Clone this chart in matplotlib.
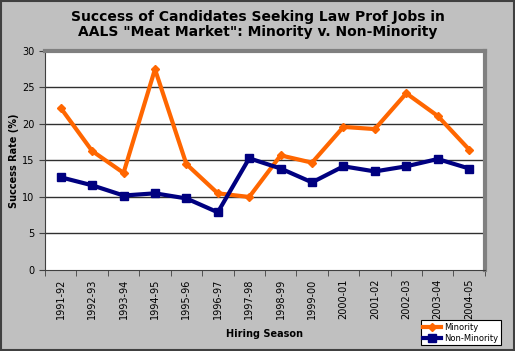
import numpy as np
import matplotlib.pyplot as plt
from matplotlib.patches import Rectangle

seasons = ["1991-92", "1992-93", "1993-94", "1994-95", "1995-96", "1996-97", "1997-98",
           "1998-99", "1999-00", "2000-01", "2001-02", "2002-03", "2003-04", "2004-05"]
minority = [22.2, 16.3, 13.3, 27.5, 14.5, 10.5, 10.0, 15.7, 14.7, 19.6, 19.3, 24.2, 21.1, 16.5]
non_minority = [12.7, 11.6, 10.2, 10.5, 9.8, 7.9, 15.3, 13.9, 12.0, 14.2, 13.5, 14.2, 15.2, 13.9]
y_ticks = [0, 5, 10, 15, 20, 25, 30]


def main():
    fig = plt.figure(figsize=(5.15, 3.51), dpi=100, facecolor="#c0c0c0")
    # outer border of the chart
    fig.patches.append(Rectangle((0.002, 0.003), 0.996, 0.994, transform=fig.transFigure,
                                 fill=False, edgecolor="#404040", linewidth=1.5))
    ax = fig.add_axes([0.0874, 0.2308, 0.854, 0.624])
    ax.set_facecolor("white")
    x = np.arange(len(seasons))

    for t in y_ticks[1:-1]:
        ax.axhline(t, color="#303030", linewidth=1.0, zorder=1)

    ax.plot(x, minority, color="#ff6600", linewidth=3, marker="D", markersize=4.5,
            label="Minority", zorder=3)
    ax.plot(x, non_minority, color="#000080", linewidth=3, marker="s", markersize=6,
            label="Non-Minority", zorder=3)

    ax.set_xlim(-0.5, len(seasons) - 0.5)
    ax.set_ylim(0, 30)
    ax.set_yticks(y_ticks)
    ax.set_xticks(x)
    ax.set_xticklabels(seasons, rotation=90, fontsize=7)
    ax.set_xticks(np.arange(-0.5, len(seasons)), minor=True)
    ax.tick_params(axis="x", which="major", length=0, pad=6)
    ax.tick_params(axis="x", which="minor", length=4, color="#404040")
    ax.tick_params(axis="y", length=4, labelsize=7, color="#404040")

    ax.spines["top"].set_color("#808080")
    ax.spines["top"].set_linewidth(3)
    ax.spines["right"].set_color("#808080")
    ax.spines["right"].set_linewidth(3)
    ax.spines["left"].set_color("#404040")
    ax.spines["bottom"].set_color("#404040")

    ax.set_ylabel("Success Rate (%)", fontsize=7, fontweight="bold", labelpad=2)
    ax.set_xlabel("Hiring Season", fontsize=7, fontweight="bold", labelpad=7)
    fig.suptitle('Success of Candidates Seeking Law Prof Jobs in\nAALS "Meat Market": Minority v. Non-Minority',
                 fontsize=10, fontweight="bold", y=0.972, linespacing=1.15)

    leg = fig.legend(loc="lower right", bbox_to_anchor=(0.972, 0.017), fontsize=6,
                     frameon=True, fancybox=False, edgecolor="black", framealpha=1,
                     handlelength=2.2, borderpad=0.3, labelspacing=0.2, handletextpad=0.3,
                     borderaxespad=0)
    leg.get_frame().set_linewidth(0.8)

    fig.savefig("out.png", dpi=100, facecolor=fig.get_facecolor())


if __name__ == '__main__':
    main()
